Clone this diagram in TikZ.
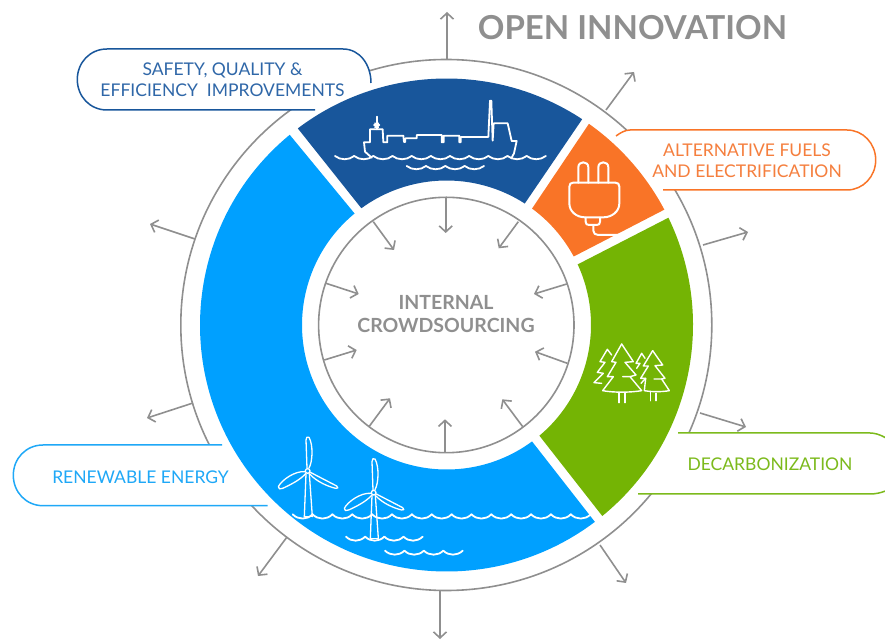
\documentclass[tikz,border=0pt]{standalone}
\usepackage{fontspec}
\setmainfont{Lato}
\usetikzlibrary{arrows.meta}
\definecolor{cDark}{HTML}{18569B}
\definecolor{cOrange}{HTML}{F97427}
\definecolor{cGreen}{HTML}{74B404}
\definecolor{cBlue}{HTML}{00A0FF}
\definecolor{cGrey}{HTML}{8F8F8F}
\definecolor{tDark}{HTML}{2F67A8}
\definecolor{tOrange}{HTML}{F57F3E}
\definecolor{tGreen}{HTML}{7CBA1C}
\definecolor{tBlue}{HTML}{1FA8F7}
\tikzset{
  px/.style={shift={(0,642)},yscale=-1},
  spoke/.style={draw=cGrey,line width=1.6pt,-{Straight Barb[length=6pt,width=13pt,line width=1.6pt]}},
  ringline/.style={draw=cGrey,line width=1.6pt},
  iconline/.style={draw=white,line width=1.8pt,line cap=round,line join=round},
  pilllabel/.style={font=\fontsize{17.5}{21}\selectfont,align=center,inner sep=0pt},
  headlabel/.style={font=\fontsize{19.5}{23}\selectfont\bfseries,text=cGrey,align=center,inner sep=0pt},
}
\newcommand\segm[5]{%
  \fill[#1] (#2:246.5) arc[start angle=#2,end angle=#3,radius=246.5]
     -- (#4:144.5) arc[start angle=#4,end angle=#5,radius=144.5] -- cycle;}
\newcommand\waverow[5]{%
  \foreach \k in {1,...,#3}{%
    \draw[iconline] ({#1+(\k-1)*#4},#2) .. controls ({#1+(\k-.72)*#4},{#2+#5}) and ({#1+(\k-.28)*#4},{#2+#5}) .. ({#1+\k*#4},#2);}}
\begin{document}
\begin{tikzpicture}[x=1pt,y=1pt]
\useasboundingbox (0,0) rectangle (885,642);
\begin{scope}[px]
  % ring lines
  \coordinate (ctr) at (446.3,325);
  \draw[ringline] (ctr) circle[radius=265.5];
  \draw[ringline,fill=white] (ctr) circle[radius=127.7];
  % outward arrows
  \foreach \i/\ax/\ay/\bx/\by in {
    1/447/59/447/12, 2/606/110/634/72, 3/703/245/748/232, 4/700/413/746/427,
    5/600/545/626/583, 6/440/591/440/639, 7/287/537/258/576, 8/193/403/147/418, 9/195/239/150/224}{
    \coordinate (os\i) at (\ax,\ay);
    \coordinate (oe\i) at (\bx,\by);
    \draw[spoke] (os\i) -- (oe\i);
  }
  % inward arrows
  \foreach \i/\ax/\ay/\bx/\by in {
    1/445.7/198/445.7/233, 2/518.3/221.7/498.7/248.3, 3/566.7/284/534/294, 4/567.3/363.3/535/351.7,
    5/522.7/426.7/502.3/399.3, 6/445/452.7/445/419.3, 7/369/426.7/390/398.3, 8/324.3/360/356.7/350,
    9/326/283.3/358.7/294, 10/373.3/221.7/394/250}{
    \coordinate (is\i) at (\ax,\ay);
    \coordinate (ie\i) at (\bx,\by);
    \draw[spoke] (is\i) -- (ie\i);
  }
  % pills: white ground
  \fill[white] (315,110) -- (107,110) .. controls (90,110) and (77.3,96.5) .. (77.3,79.5) .. controls (77.3,62.5) and (90,49) .. (107,49) -- (343,49) .. controls (360,49) and (371,65) .. (371,83) -- cycle;
  \fill[white] (616,136) .. controls (620,133) and (625,130) .. (630,130) -- (847,130) .. controls (863,130) and (875.7,143.5) .. (875.7,160) .. controls (875.7,176.5) and (863,190) .. (847,190) -- (663,190) -- cycle;
  \fill[white] (678,433) -- (870,433) .. controls (880,433) and (890,440) .. (895,445) -- (895,485) .. controls (890,490) and (880,494) .. (870,494) -- (638,494) -- cycle;
  \fill[white] (222,445) -- (43,445) .. controls (26,445) and (13.3,458.5) .. (13.3,475.3) .. controls (13.3,492) and (26,505.7) .. (43,505.7) -- (267.7,505.7) -- cycle;
  % pills: outlines
  \draw[cDark,line width=1.5pt] (315,110) -- (107,110) .. controls (90,110) and (77.3,96.5) .. (77.3,79.5) .. controls (77.3,62.5) and (90,49) .. (107,49) -- (343,49) .. controls (360,49) and (371,65) .. (371,83);
  \draw[cOrange,line width=1.5pt] (616,136) .. controls (620,133) and (625,130) .. (630,130) -- (847,130) .. controls (863,130) and (875.7,143.5) .. (875.7,160) .. controls (875.7,176.5) and (863,190) .. (847,190) -- (663,190);
  \draw[tGreen,line width=1.5pt] (678,433) -- (870,433) .. controls (880,433) and (890,440) .. (895,445);
  \draw[tGreen,line width=1.5pt] (895,485) .. controls (890,490) and (880,494) .. (870,494) -- (638,494);
  \draw[tBlue,line width=1.5pt] (222,445) -- (43,445) .. controls (26,445) and (13.3,458.5) .. (13.3,475.3) .. controls (13.3,492) and (26,505.7) .. (43,505.7) -- (267.7,505.7);
\end{scope}
% coloured segments
\begin{scope}[shift={(446.5,317)}]
  \segm{cDark}{127.1}{56.6}{57.2}{126.1}
  \segm{cOrange}{54.7}{27.9}{28.3}{53.7}
  \segm{cGreen}{25.8}{-50.8}{-50}{24.8}
  \segm{cBlue}{129.5}{307}{306.3}{129.5}
\end{scope}
\begin{scope}[px]
  % labels
  \node[pilllabel,text=tDark] (lsafety) at (222.5,79.5) {SAFETY, QUALITY \&\\EFFICIENCY\ \ IMPROVEMENTS};
  \node[pilllabel,text=tOrange] (lfuels) at (747,160.5) {ALTERNATIVE FUELS\\AND ELECTRIFICATION};
  \node[pilllabel,text=tGreen] (ldecarb) at (770,464) {DECARBONIZATION};
  \node[pilllabel,text=tBlue] (lrenew) at (140.5,477) {RENEWABLE ENERGY};
  \node[font=\fontsize{33}{36}\selectfont\bfseries,text=cGrey,inner sep=0pt] (lopen) at (632.5,28) {OPEN INNOVATION};
  \node[headlabel] (lint) at (446,314.5) {INTERNAL\\CROWDSOURCING};
  % ship
  \begin{scope}[shift={(290,90)},scale=1/3]
    \draw[iconline] (245,203) -- (225,185) -- (222,157) -- (240,157) -- (240,118) -- (278,118) -- (280,157) -- (292,157) -- (292,137) -- (340,137) -- (342,156) -- (346,156) -- (346,145) -- (380,145) -- (380,135) -- (455,135) -- (455,157) -- (461,157) -- (461,137) -- (508,137) -- (508,157) -- (512,157) -- (512,141) -- (595,141) -- (600,32) -- (604,32) -- (608,152) -- (611,100) -- (653,100) -- (665,153) -- (680,153) -- (672,190) -- (665,203);
    \draw[iconline] (260,80) -- (260,118);
    \draw[iconline] (252,106) -- (268,106);
    \draw[iconline] (255,100) -- (265,112);
    \draw[iconline] (255,112) -- (265,100);
    \waverow{135}{198}{11}{57.5}{13}
    \waverow{350}{228}{4}{58}{13}
  \end{scope}
  % plug
  \begin{scope}[shift={(520,120)},scale=1/3]
    \draw[iconline,line width=2pt] (160,188) -- (286,188) .. controls (294,188) and (298,192) .. (298,200) -- (298,250) .. controls (298,275) and (275,292) .. (250,292) -- (195,292) .. controls (170,292) and (148,275) .. (148,250) -- (148,200) .. controls (148,192) and (152,188) .. (160,188);
    \draw[iconline,line width=2pt] (175,188) -- (175,142) .. controls (175,122) and (205,122) .. (205,142) -- (205,188);
    \draw[iconline,line width=2pt] (235,188) -- (235,142) .. controls (235,122) and (265,122) .. (265,142) -- (265,188);
    \draw[iconline,line width=2pt] (197,293) -- (197,305) .. controls (197,312) and (200,315) .. (207,315) -- (230,315) .. controls (237,315) and (240,312) .. (240,305) -- (240,293);
    \draw[iconline,line width=2pt] (220,316) -- (220,332) .. controls (220,340) and (226,345) .. (235,345) -- (300,345);
  \end{scope}
  % trees
  \begin{scope}[shift={(580,330)},scale=1/3]
    \draw[iconline,line width=1.4pt] (125,42) -- (95,95) -- (108,97) -- (82,140) -- (100,140) -- (68,182) .. controls (100,188) and (150,188) .. (185,182) -- (150,140) -- (128,140);
    \draw[iconline,line width=1.4pt] (150,140) -- (168,135) -- (135,97) -- (160,95) -- (125,42);
    \draw[iconline,line width=1.4pt] (117,188) -- (117,218);
    \draw[iconline,line width=1.4pt] (135,190) -- (135,218);
    \draw[iconline,line width=1.4pt] (95,75) -- (82,58) -- (60,95) -- (75,97) -- (52,127) -- (70,130) -- (42,158) -- (65,160);
    \draw[iconline,line width=1.4pt] (195,85) -- (185,70) -- (168,100) -- (180,100) -- (170,115);
    \draw[iconline,line width=1.4pt] (197,145) -- (183,160);
    \draw[iconline,line width=1.4pt] (218,62) -- (190,108) -- (205,108) -- (182,145) -- (197,145) -- (193,182) .. controls (215,186) and (245,186) .. (268,182) -- (245,147) -- (222,147);
    \draw[iconline,line width=1.4pt] (245,147) -- (255,145) -- (225,107) -- (248,105) -- (218,62);
    \draw[iconline,line width=1.4pt] (212,187) -- (212,212);
    \draw[iconline,line width=1.4pt] (228,190) -- (228,212);
  \end{scope}
  % wind farm
  \begin{scope}[shift={(270,430)},scale=1/3]
    \foreach \dx/\dy/\base in {0/0/260,198/65/325}{
      \begin{scope}[shift={(\dx,\dy)}]
        \draw[iconline,line width=1.3pt] (113,123) circle[radius=7];
        \draw[iconline,line width=1.3pt] (103,{\base-\dy}) -- (108,131);
        \draw[iconline,line width=1.3pt] (127,{\base-\dy}) -- (118,131);
        \draw[iconline,line width=1.3pt] (103,{\base-\dy}) -- (127,{\base-\dy});
        \draw[iconline,line width=1.3pt] (117,114) .. controls (128,95) and (130,45) .. (117,22) .. controls (112,18) and (108,22) .. (108,30) -- (111,115);
        \draw[iconline,line width=1.3pt] (121,127) -- (200,168) .. controls (207,172) and (203,177) .. (197,175) .. controls (175,170) and (140,155) .. (120,133);
        \draw[iconline,line width=1.3pt] (105,125) .. controls (75,122) and (35,150) .. (25,170) .. controls (25,178) and (30,178) .. (38,175) .. controls (60,165) and (90,150) .. (107,131);
      \end{scope}
    }
    \waverow{68}{253}{15}{59.6}{17}
    \waverow{228}{320}{4}{57.5}{16}
    \waverow{345}{362}{4}{58.3}{16}
  \end{scope}
\end{scope}
\end{tikzpicture}
\end{document}
